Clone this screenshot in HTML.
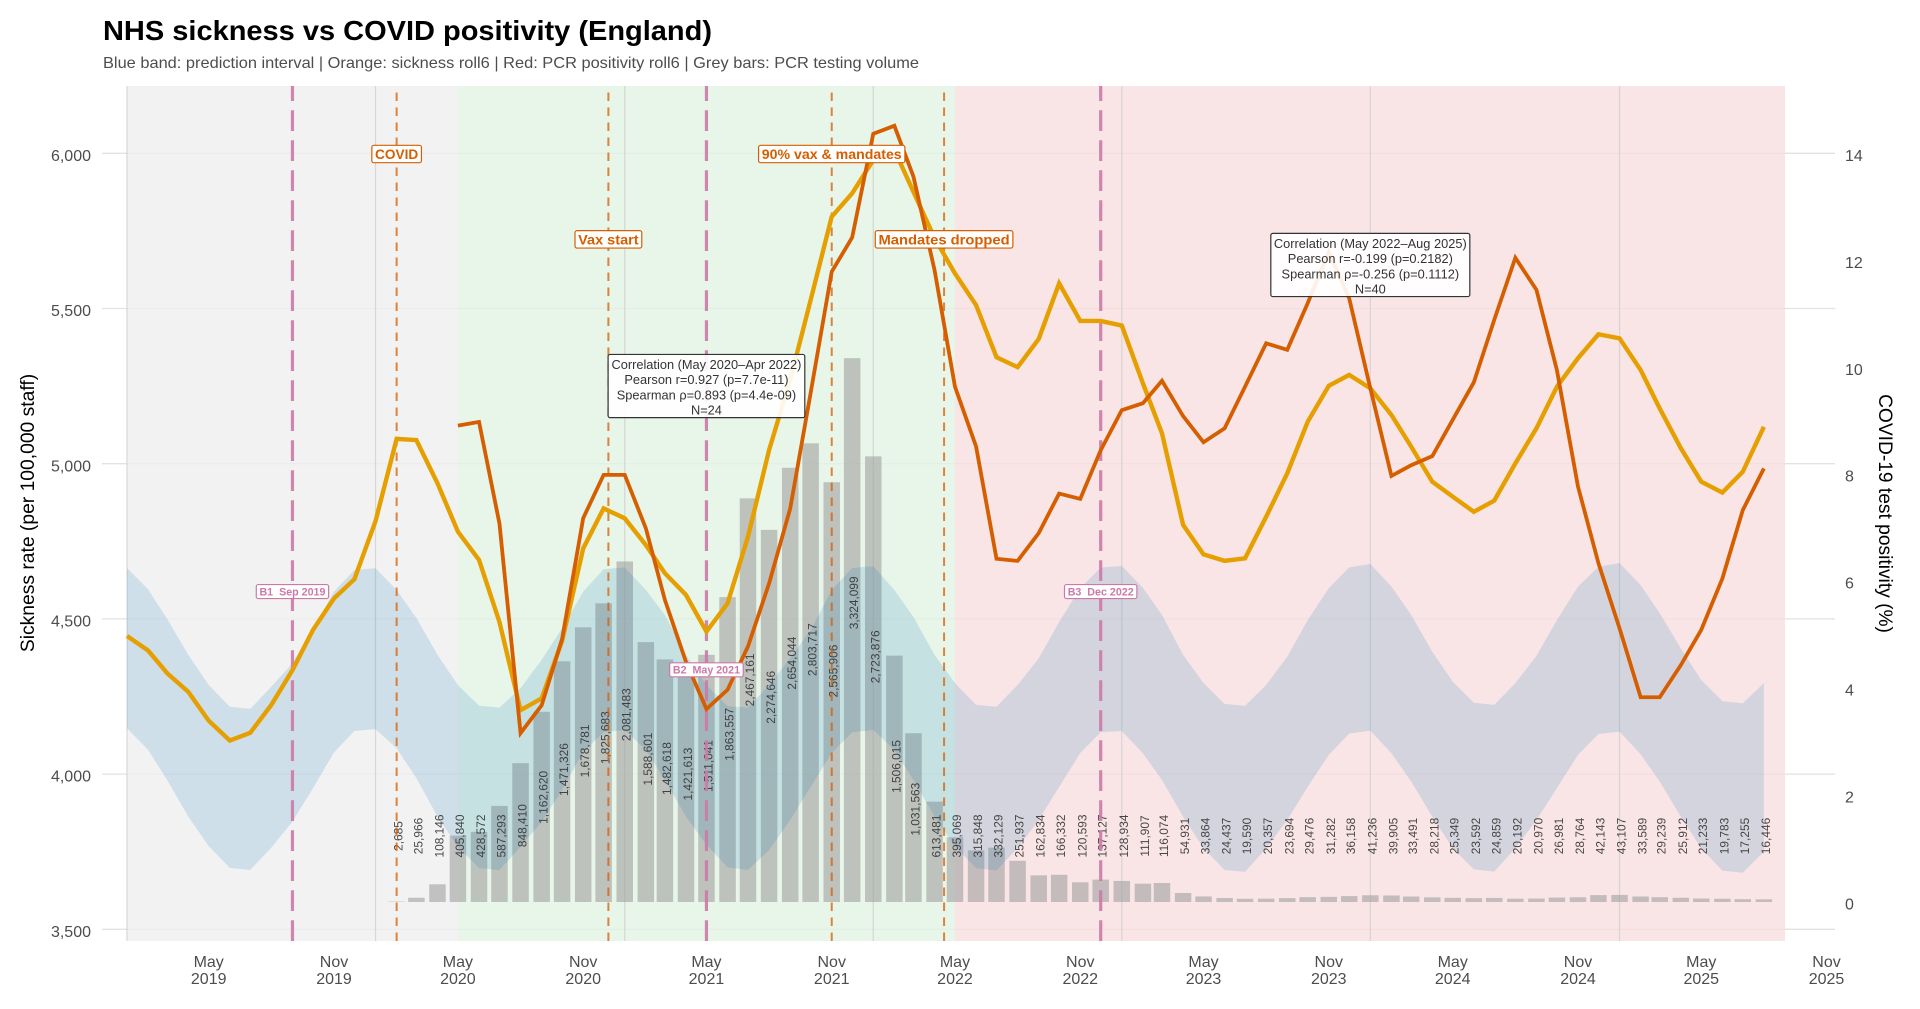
<!DOCTYPE html>
<html lang="en">
<head>
<meta charset="utf-8">
<title>NHS sickness vs COVID positivity (England)</title>
<style>
html,body{margin:0;padding:0;background:#fff;}
svg{display:block;font-family:"Liberation Sans",sans-serif;}
text{white-space:pre;}
</style>
</head>
<body>
<svg id="chart" xmlns="http://www.w3.org/2000/svg" width="1920" height="1009" viewBox="0 0 1920 1009">
  <rect x="0" y="0" width="1920" height="1009" fill="#ffffff"/>
  <text x="103" y="40" font-size="28" font-weight="bold" fill="#000" textLength="609" lengthAdjust="spacingAndGlyphs">NHS sickness vs COVID positivity (England)</text>
  <text x="103" y="68" font-size="16" fill="#4d4d4d" textLength="816" lengthAdjust="spacingAndGlyphs">Blue band: prediction interval | Orange: sickness roll6 | Red: PCR positivity roll6 | Grey bars: PCR testing volume</text>
  <text transform="translate(34,513) rotate(-90)" text-anchor="middle" font-size="19.3" fill="#000">Sickness rate (per 100,000 staff)</text>
  <text transform="translate(1879,513.5) rotate(90)" text-anchor="middle" font-size="19.2" fill="#000">COVID-19 test positivity (%)</text>
  <g id="grid"></g>
  <g id="periods"></g>
  <g id="yearlines"></g>
  <g id="bars"></g>
  <g id="ribbon"></g>
  <g id="barlabels"></g>
  <g id="vlines"></g>
  <g id="series"></g>
  <g id="annotations"></g>
  <g id="corr"></g>
  <g id="axes"></g>
</svg>
<script>
// ---------- data ----------
const seriesStart = "2019-01-01";
const sickness = [
 4445,4398,4325,4265,4172,4108,4133,4223,4335,4464,4566,4628,
 4815,5080,5076,4937,4781,4690,4490,4206,4244,4429,4727,4856,
 4824,4738,4647,4577,4459,4550,4765,5044,5270,5527,5796,5871,
 5978,6011,5876,5727,5613,5511,5343,5311,5402,5581,5460,5460,
 5445,5259,5098,4803,4708,4687,4695,4829,4969,5135,5251,5286,
 5243,5157,5055,4942,4894,4845,4881,5001,5114,5248,5340,5417,
 5404,5302,5178,5050,4942,4907,4974,5119];
const bandUpper = [
 4663,4595,4500,4384,4287,4217,4210,4282,4357,4470,4588,4658,
 4663,4593,4503,4384,4287,4220,4214,4277,4368,4470,4588,4660,
 4666,4593,4513,4384,4287,4219,4214,4287,4374,4464,4593,4664,
 4670,4593,4506,4384,4293,4223,4217,4287,4373,4490,4599,4665,
 4671,4600,4513,4384,4293,4226,4220,4287,4378,4496,4599,4666,
 4677,4604,4513,4394,4298,4230,4223,4293,4381,4496,4604,4668,
 4680,4609,4518,4405,4303,4235,4228,4293];
const bandLower = [
 4148,4078,3981,3863,3768,3698,3691,3763,3847,3954,4070,4139,
 4145,4083,3987,3863,3766,3697,3691,3766,3847,3949,4072,4135,
 4142,4078,3981,3863,3772,3700,3691,3755,3852,3959,4068,4135,
 4142,4078,3981,3863,3766,3697,3689,3762,3852,3959,4068,4135,
 4139,4067,3981,3863,3761,3691,3685,3761,3852,3959,4062,4131,
 4140,4067,3976,3863,3761,3693,3686,3761,3852,3955,4062,4129,
 4137,4064,3976,3863,3761,3689,3682,3750];
const positivityStart = "2020-05-01";
const positivity = [
 8.91,8.98,7.08,3.16,3.68,4.92,7.18,7.99,
 7.99,6.99,5.65,4.49,3.61,3.97,4.78,5.96,7.36,9.52,11.79,12.43,
 14.37,14.52,13.57,11.82,9.64,8.52,6.42,6.38,6.90,7.64,7.54,8.45,
 9.20,9.33,9.75,9.09,8.60,8.86,9.64,10.45,10.33,11.20,12.16,11.29,
 9.61,7.97,8.17,8.34,9.02,9.72,10.89,12.05,11.45,9.95,7.77,6.34,
 5.12,3.83,3.83,4.43,5.09,6.05,7.33,8.11];
const testsStart = "2020-02-01";
const tests = [
 2685,25966,108146,405840,428572,587293,848410,1162620,1471326,1678781,1825683,
 2081483,1588601,1482618,1421613,1511041,1863557,2467161,2274646,2654044,2803717,2565906,3324099,
 2723876,1506015,1031563,613481,395069,315848,332129,251937,162834,166332,120593,137127,
 128934,111907,116074,54931,33864,24437,19590,20357,23694,29476,31282,36158,
 41236,39905,33491,28218,25349,23592,24859,20192,20970,26981,28764,42143,
 43107,33589,29239,25912,21233,19783,17255,16446];
const leftTicks = [3500,4000,4500,5000,5500,6000];
const rightTicks = [0,2,4,6,8,10,12,14];
const xTickDates = ["2019-05-01","2019-11-01","2020-05-01","2020-11-01","2021-05-01","2021-11-01","2022-05-01","2022-11-01","2023-05-01","2023-11-01","2024-05-01","2024-11-01","2025-05-01","2025-11-01"];
const xTickMonths = ["May","Nov","May","Nov","May","Nov","May","Nov","May","Nov","May","Nov","May","Nov"];
const xTickYears = ["2019","2019","2020","2020","2021","2021","2022","2022","2023","2023","2024","2024","2025","2025"];
const yearStarts = ["2019-01-01","2020-01-01","2021-01-01","2022-01-01","2023-01-01","2024-01-01","2025-01-01"];
const periodStarts = ["2019-01-01","2020-05-01","2022-05-01"];
const periodEnds = ["2020-05-01","2022-05-01","2025-09-01"];
const periodNames = ["baseline-period","mandate-period","post-mandate-period"];
const eventDates = ["2020-02-01","2020-12-08","2021-11-01","2022-04-15"];
const eventLabels = ["COVID","Vax start","90% vax & mandates","Mandates dropped"];
const eventLevels = [6000,5725,6000,5725];
const breakDates = ["2019-09-01","2021-05-01","2022-12-01"];
const breakLabels = ["B1  Sep 2019","B2  May 2021","B3  Dec 2022"];
const breakLevels = [4588,4336,4588];
const corrDates = ["2021-05-01","2024-01-01"];
const corrTop = [5352,5742];
const corrTexts = [
 ["Correlation (May 2020\u2013Apr 2022)","Pearson r=0.927 (p=7.7e-11)","Spearman \u03c1=0.893 (p=4.4e-09)","N=24"],
 ["Correlation (May 2022\u2013Aug 2025)","Pearson r=-0.199 (p=0.2182)","Spearman \u03c1=-0.256 (p=0.1112)","N=40"]];

// ---------- scales ----------
const NS = "http://www.w3.org/2000/svg";
const DAY = 86400000;
const X0 = 127, PXDAY = 0.6809;
const PANEL_L = 102, PANEL_R = 1835, PANEL_T = 86, PANEL_B = 941;
function days(s){ return (Date.parse(s + "T00:00:00Z") - Date.parse("2019-01-01T00:00:00Z")) / DAY; }
function x(s){ return X0 + PXDAY * days(s); }
function yL(v){ return 929.3 - (v - 3500) * 0.3104; }
function yR(v){ return 902 - v * 53.46; }
function barH(v){ return v / 1e6 * 163.6; }
function monthAt(start, i){
  const d = new Date(start + "T00:00:00Z");
  const t = new Date(Date.UTC(d.getUTCFullYear(), d.getUTCMonth() + i, 1));
  return t.toISOString().slice(0, 10);
}
function fmt(n){ return n.toLocaleString("en-US"); }
function mk(parent, tag, attrs, txt){
  const e = document.createElementNS(NS, tag);
  for (const k in attrs) e.setAttribute(k, attrs[k]);
  if (txt !== undefined) e.textContent = txt;
  document.getElementById(parent).appendChild(e);
  return e;
}

// ---------- gridlines ----------
leftTicks.forEach(function(t){
  const el = mk("grid", "line", {x1:PANEL_L, x2:PANEL_R, y1:yL(t), y2:yL(t), stroke:"#e2e2e2", "stroke-width":1.3});
  
  
});

// ---------- period backgrounds ----------
const periodFills = ["#efefef","#e2f2e3","#f7dedf"];
periodStarts.forEach(function(s, i){
  const el = mk("periods", "rect", {x:x(s), y:PANEL_T, width:x(periodEnds[i]) - x(s), height:PANEL_B - PANEL_T, fill:periodFills[i], "fill-opacity":0.8});
  
  
});

// ---------- year lines ----------
yearStarts.forEach(function(s){
  const el = mk("yearlines", "line", {x1:x(s), x2:x(s), y1:PANEL_T, y2:PANEL_B, stroke:"#cfcfcf", "stroke-opacity":0.8, "stroke-width":1.2});
  
  
});

// ---------- bars ----------
const BAR_W = 16.5;
tests.forEach(function(v, i){
  const cx = x(monthAt(testsStart, i));
  const h = barH(v);
  const el = mk("bars", "rect", {x:cx - BAR_W / 2, y:902 - h, width:BAR_W, height:h, fill:"#a0a0a0", "fill-opacity":0.6});
  
  
});

// ---------- prediction band ----------
(function(){
  const up = bandUpper.map(function(v, i){ return x(monthAt(seriesStart, i)).toFixed(2) + "," + yL(v).toFixed(2); });
  const lo = bandLower.map(function(v, i){ return x(monthAt(seriesStart, i)).toFixed(2) + "," + yL(v).toFixed(2); }).reverse();
  const el = mk("ribbon", "polygon", {points:up.concat(lo).join(" "), fill:"#0072B2", "fill-opacity":0.15});
  
  
})();

// ---------- bar labels ----------
tests.forEach(function(v, i){
  const cx = x(monthAt(testsStart, i)) + 6;
  const cy = Math.min(836, 902 - v / 1e6 * 90);
  const el = mk("barlabels", "text", {transform:"translate(" + cx.toFixed(2) + "," + cy.toFixed(2) + ") rotate(-90)", "text-anchor":"middle", "font-size":11.9, fill:"#333", "fill-opacity":0.9}, fmt(v));
  
  
});

// ---------- event and break lines ----------
eventDates.forEach(function(s){
  const el = mk("vlines", "line", {x1:x(s), x2:x(s), y1:PANEL_B, y2:PANEL_T, stroke:"#D55E00", "stroke-opacity":0.75, "stroke-width":2, "stroke-dasharray":"8.5 6.5"});
  
  
});
breakDates.forEach(function(s){
  const el = mk("vlines", "line", {x1:x(s), x2:x(s), y1:PANEL_B, y2:PANEL_T, stroke:"#CC79A7", "stroke-opacity":0.9, "stroke-width":3.2, "stroke-dasharray":"20.7 9.3"});
  
  
});

// ---------- series ----------
(function(){
  const p1 = sickness.map(function(v, i){ return x(monthAt(seriesStart, i)).toFixed(2) + "," + yL(v).toFixed(2); }).join(" ");
  const l1 = mk("series", "polyline", {points:p1, fill:"none", stroke:"#E69F00", "stroke-width":4.4, "stroke-linejoin":"miter"});
  
  
  const p2 = positivity.map(function(v, i){ return x(monthAt(positivityStart, i)).toFixed(2) + "," + yR(v).toFixed(2); }).join(" ");
  const l2 = mk("series", "polyline", {points:p2, fill:"none", stroke:"#D55E00", "stroke-width":3.8, "stroke-linejoin":"miter"});
  
  
})();

// ---------- event labels ----------
function boxedLabel(cx, cy, label, size, color, h, pad, nameBox, nameText, baseOff, boxW){
  const box = mk("annotations", "rect", {y:cy - h / 2, height:h, rx:2, ry:2, fill:"#fff", stroke:color, "stroke-width":1.2});
  
  
  const t = mk("annotations", "text", {x:cx, y:cy + baseOff, "text-anchor":"middle", "font-size":size, "font-weight":"bold", fill:color}, label);
  
  
  let w = t.getComputedTextLength() + pad * 2;
  if (boxW) {
    w = boxW;
    t.setAttribute("textLength", w - pad * 2);
    t.setAttribute("lengthAdjust", "spacingAndGlyphs");
  }
  box.setAttribute("x", cx - w / 2);
  box.setAttribute("width", w);
}
const eventBoxWidths = [49.6, 66.8, 146.3, 137.6];
eventDates.forEach(function(s, i){
  boxedLabel(x(s), yL(eventLevels[i]) + 0.7, eventLabels[i], 14, "#D55E00", 17.4, 3.2, "event-label-box", "event-label", 5.2, eventBoxWidths[i]);
});
breakDates.forEach(function(s, i){
  boxedLabel(x(s), yL(breakLevels[i]), breakLabels[i], 10.7, "#CC79A7", 14, 3.2, "breakpoint-label-box", "breakpoint-label", 3.9);
});

// ---------- correlation boxes ----------
corrDates.forEach(function(s, i){
  const cx = x(s), top = yL(corrTop[i]);
  const bw = i === 0 ? 196.7 : 199;
  const box = mk("corr", "rect", {x:cx - bw / 2, y:top, width:bw, height:63.2, rx:2, ry:2, fill:"#fff", "fill-opacity":0.9, stroke:"#333", "stroke-width":1.2});
  
  
  corrTexts[i].forEach(function(line, j){
    const t = mk("corr", "text", {x:cx, y:top + 14.4 + j * 15.3, "text-anchor":"middle", "font-size":12.8, fill:"#333"}, line);
    
    
  });
});

// ---------- axis labels ----------
leftTicks.forEach(function(t){
  const el = mk("axes", "text", {x:91, y:yL(t) + 7.6, "text-anchor":"end", "font-size":16, fill:"#4d4d4d"}, fmt(t));
  
  
});
rightTicks.forEach(function(t){
  const el = mk("axes", "text", {x:1845, y:yR(t) + 7.4, "text-anchor":"start", "font-size":16, fill:"#4d4d4d"}, String(t));
  
  
});
xTickDates.forEach(function(s, i){
  const m = mk("axes", "text", {x:x(s), y:967, "text-anchor":"middle", "font-size":16, fill:"#4d4d4d"}, xTickMonths[i]);
  
  
  const yr = mk("axes", "text", {x:x(s), y:984, "text-anchor":"middle", "font-size":16, fill:"#4d4d4d"}, xTickYears[i]);
  
  
});
</script>
</body>
</html>
